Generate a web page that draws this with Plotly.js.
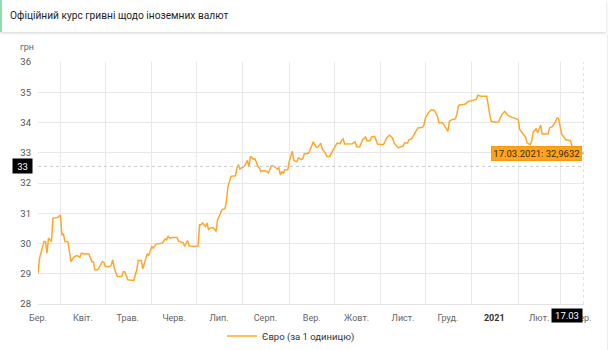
<!DOCTYPE html>
<html>
<head>
<meta charset="utf-8">
<script src="https://cdn.plot.ly/plotly-3.0.1.min.js"></script>
<style>
  html, body { margin: 0; padding: 0; background: #fff; }
  #wrap { position: relative; width: 613px; height: 350px; overflow: hidden; }
  #chart { position: absolute; left: 0; top: 0; width: 613px; height: 350px; }
  #hdr {
    position: absolute; left: 0; top: 0; width: 606px; height: 32px;
    background: #fff; border-left: 2px solid #8fdcae;
    box-shadow: 0 1px 3px rgba(0,0,0,0.18);
    font-family: Roboto, "Noto Sans", sans-serif; font-size: 10.2px; color: #1e1e1e;
    line-height: 32px; padding-left: 8px; box-sizing: border-box; z-index: 5;
  }
  #edge { position: absolute; left: 607px; top: 34px; width: 1px; height: 316px; background: #ececec; z-index: 4; }
</style>
</head>
<body>
<div id="wrap">
  <div id="chart"></div>
  <div id="hdr">Офіційний курс гривні щодо іноземних валют</div>
  <div id="edge"></div>
</div>
<script>
// ---- data ----
const dates = [
'2020-03-17','2020-03-18','2020-03-19','2020-03-21','2020-03-22','2020-03-23','2020-03-24','2020-03-26','2020-03-27','2020-03-30',
'2020-04-01','2020-04-02','2020-04-03','2020-04-04','2020-04-06','2020-04-07','2020-04-08','2020-04-10','2020-04-12','2020-04-14',
'2020-04-15','2020-04-17','2020-04-20','2020-04-22','2020-04-23','2020-04-24','2020-04-26','2020-04-29','2020-04-30','2020-05-01',
'2020-05-04','2020-05-05','2020-05-06','2020-05-07','2020-05-09','2020-05-12','2020-05-13','2020-05-14','2020-05-16','2020-05-20',
'2020-05-22','2020-05-23','2020-05-25','2020-05-26','2020-05-29','2020-05-30','2020-06-01','2020-06-02','2020-06-04','2020-06-08',
'2020-06-10','2020-06-11','2020-06-12','2020-06-13','2020-06-15','2020-06-18','2020-06-19','2020-06-22','2020-06-23','2020-06-25',
'2020-06-26','2020-06-29','2020-07-02','2020-07-03','2020-07-04','2020-07-05','2020-07-07','2020-07-08','2020-07-09','2020-07-10',
'2020-07-12','2020-07-14','2020-07-15','2020-07-17','2020-07-18','2020-07-20','2020-07-21','2020-07-22','2020-07-24','2020-07-27',
'2020-07-28','2020-07-29','2020-07-30','2020-07-31','2020-08-02','2020-08-04','2020-08-05','2020-08-06','2020-08-08','2020-08-09',
'2020-08-11','2020-08-12','2020-08-13','2020-08-15','2020-08-17','2020-08-18','2020-08-19','2020-08-20','2020-08-22','2020-08-24',
'2020-08-25','2020-08-26','2020-08-27','2020-08-28','2020-08-29','2020-08-31','2020-09-01','2020-09-03','2020-09-04','2020-09-06',
'2020-09-07','2020-09-09','2020-09-10','2020-09-11','2020-09-14','2020-09-15','2020-09-17','2020-09-19','2020-09-20','2020-09-22',
'2020-09-23','2020-09-25','2020-09-26','2020-09-28','2020-09-30','2020-10-01','2020-10-03','2020-10-05','2020-10-06','2020-10-07',
'2020-10-08','2020-10-10','2020-10-13','2020-10-15','2020-10-16','2020-10-18','2020-10-20','2020-10-22','2020-10-23','2020-10-25',
'2020-10-26','2020-10-28','2020-10-29','2020-10-30','2020-11-01','2020-11-03','2020-11-04','2020-11-05','2020-11-07','2020-11-09',
'2020-11-10','2020-11-12','2020-11-13','2020-11-15','2020-11-16','2020-11-17','2020-11-19','2020-11-20','2020-11-22','2020-11-24',
'2020-11-25','2020-11-26','2020-11-29','2020-11-30','2020-12-01','2020-12-03','2020-12-05','2020-12-07','2020-12-09','2020-12-10',
'2020-12-12','2020-12-13','2020-12-14','2020-12-15','2020-12-16','2020-12-17','2020-12-19','2020-12-21','2020-12-22','2020-12-23',
'2020-12-24','2020-12-26','2020-12-28','2020-12-29','2020-12-31','2021-01-02','2021-01-04','2021-01-05','2021-01-07','2021-01-09',
'2021-01-10','2021-01-11','2021-01-13','2021-01-14','2021-01-17','2021-01-19','2021-01-20','2021-01-21','2021-01-23','2021-01-24',
'2021-01-25','2021-01-28','2021-01-30','2021-02-01','2021-02-02','2021-02-04','2021-02-06','2021-02-07','2021-02-09','2021-02-10',
'2021-02-11','2021-02-13','2021-02-14','2021-02-16','2021-02-17','2021-02-19','2021-02-21','2021-02-22','2021-02-24','2021-02-26',
'2021-02-27','2021-02-28','2021-03-01','2021-03-02','2021-03-04','2021-03-05','2021-03-08','2021-03-09','2021-03-11','2021-03-15',
'2021-03-17'
];
const euroRate = [
29.00,29.52,29.70,30.07,30.07,29.68,30.18,30.07,30.84,30.86,
30.94,30.29,30.31,30.07,30.07,29.68,29.40,29.55,29.60,29.55,
29.68,29.65,29.65,29.40,29.40,29.13,29.13,29.40,29.38,29.24,
29.24,29.29,29.46,29.19,28.91,28.91,29.07,29.07,28.80,28.78,
29.13,29.44,29.44,29.16,29.66,29.60,29.90,29.85,29.98,30.01,
30.15,30.12,30.25,30.18,30.20,30.20,30.07,30.03,29.90,30.10,
29.92,29.90,29.92,30.62,30.62,30.68,30.56,30.68,30.45,30.51,
30.53,30.40,30.78,31.00,31.12,31.15,31.39,31.89,32.22,32.24,
32.50,32.61,32.46,32.50,32.55,32.75,32.53,32.88,32.79,32.80,
32.55,32.50,32.38,32.41,32.38,32.33,32.44,32.57,32.55,32.46,
32.50,32.27,32.38,32.31,32.44,32.44,32.72,33.05,32.75,32.70,
32.83,32.77,32.80,32.96,32.99,33.10,33.36,33.18,33.18,33.32,
33.13,32.99,32.88,32.88,33.08,33.16,33.32,33.30,33.41,33.46,
33.29,33.29,33.30,33.36,33.20,33.19,33.43,33.52,33.40,33.40,
33.52,33.54,33.43,33.29,33.27,33.27,33.38,33.49,33.58,33.49,
33.32,33.21,33.16,33.21,33.21,33.32,33.32,33.43,33.47,33.66,
33.77,33.82,33.84,33.91,34.15,34.32,34.42,34.40,34.21,33.99,
33.99,33.95,33.87,33.77,33.71,34.04,34.10,34.12,34.26,34.54,
34.59,34.59,34.62,34.68,34.72,34.74,34.76,34.90,34.87,34.87,
34.89,34.87,34.26,34.04,34.01,34.02,34.15,34.26,34.37,34.32,
34.24,34.17,34.13,34.10,33.77,33.62,33.51,33.32,33.27,33.38,
33.68,33.80,33.66,33.91,33.62,33.62,33.62,33.82,33.87,34.04,
34.15,34.13,33.82,33.62,33.49,33.43,33.40,33.21,33.05,33.00,
32.9632
];
const seriesName = 'Євро (за 1 одиницю)';
const monthLabelDates = ['2020-03-17','2020-04-16','2020-05-16','2020-06-16','2020-07-16','2020-08-16','2020-09-16',
                         '2020-10-16','2020-11-16','2020-12-16','2021-01-16','2021-02-15','2021-03-16'];
const monthLabels = ['Бер.','Квіт.','Трав.','Черв.','Лип.','Серп.','Вер.','Жовт.','Лист.','Груд.',
                     '<span style="font-weight:bold;fill:#333">2021</span>','Лют.','Бер.'];
const monthStarts = ['2020-04-01','2020-05-01','2020-06-01','2020-07-01','2020-08-01','2020-09-01','2020-10-01',
                     '2020-11-01','2020-12-01','2021-01-01','2021-02-01','2021-03-01'];
const yTicks = [28,29,30,31,32,33,34,35,36];
const xRange = ['2020-03-17','2021-03-17'];
const yRange = [28, 36];
const crosshairY = 32.55;       // hover crosshair level
const crosshairYLabel = '33';
const lastDate = dates[dates.length - 1];
const lastValue = euroRate[euroRate.length - 1];
const lastDateLabel = '17.03';
const tooltipText = '17.03.2021: 32,9632';

const FONT = 'Roboto, "Noto Sans", sans-serif';
const ORANGE = '#ffa62b';

const trace = {
  type: 'scatter', mode: 'lines', x: dates, y: euroRate, name: seriesName,
  line: {color: ORANGE, width: 1.5, shape: 'linear'}, hoverinfo: 'skip'
};

const layout = {
  width: 613, height: 350,
  margin: {l: 38, r: 29, t: 62, b: 46},
  paper_bgcolor: '#fff', plot_bgcolor: '#fff',
  font: {family: FONT, size: 9, color: '#666'},
  showlegend: true,
  legend: {orientation: 'h', xref: 'paper', x: 0.337, xanchor: 'left',
           yref: 'container', y: 0.04, yanchor: 'middle',
           font: {family: FONT, size: 9.5, color: '#333'}, bgcolor: 'rgba(0,0,0,0)'},
  xaxis: {
    type: 'date', range: xRange, fixedrange: true,
    tickmode: 'array', tickvals: monthLabelDates, ticktext: monthLabels,
    showgrid: false, ticks: '', ticklabelstandoff: 5,
    tickfont: {family: FONT, size: 9, color: '#666'},
    minor: {tickmode: 'array', tickvals: monthStarts, showgrid: true, gridcolor: '#e8e8e8', gridwidth: 1, ticks: ''},
    showline: true, linecolor: '#e3e3e3', linewidth: 1, zeroline: false
  },
  yaxis: {
    range: yRange, fixedrange: true, tickmode: 'array', tickvals: yTicks,
    showgrid: true, gridcolor: '#e8e8e8', gridwidth: 1, zeroline: false, showline: false,
    ticks: '', ticklabelstandoff: 6,
    tickfont: {family: FONT, size: 9.5, color: '#555'}
  },
  shapes: [
    {type: 'line', xref: 'paper', x0: 0, x1: 1, yref: 'y', y0: crosshairY, y1: crosshairY,
     line: {color: '#c8c8c8', width: 1, dash: 'dot'}},
    {type: 'line', xref: 'x', x0: lastDate, x1: lastDate, yref: 'paper', y0: 0, y1: 1,
     line: {color: '#c8c8c8', width: 1, dash: 'dot'}}
  ],
  annotations: [
    {xref: 'paper', x: 0, xanchor: 'right', xshift: -2, yref: 'paper', y: 1, yanchor: 'bottom', yshift: 8,
     text: 'грн', showarrow: false, font: {family: FONT, size: 9, color: '#666'}},
    {xref: 'paper', x: 0, xanchor: 'right', xshift: -5, yref: 'y', y: crosshairY, yanchor: 'middle',
     text: crosshairYLabel, showarrow: false, bgcolor: '#000', borderpad: 2, width: 15, height: 10,
     font: {family: FONT, size: 9.5, color: '#fff'}},
    {xref: 'x', x: lastDate, xanchor: 'right', xshift: -1, yref: 'paper', y: 0, yanchor: 'top', yshift: -4,
     text: lastDateLabel, showarrow: false, bgcolor: '#000', borderpad: 2, width: 26, height: 9,
     font: {family: FONT, size: 9.5, color: '#fff'}},
    {xref: 'x', x: lastDate, xanchor: 'right', xshift: -2, yref: 'y', y: lastValue, yanchor: 'middle',
     text: tooltipText, showarrow: false, bgcolor: 'rgba(255,158,16,0.95)', bordercolor: '#f59a10', borderwidth: 1,
     borderpad: 1, width: 87, height: 11, font: {family: FONT, size: 9.5, color: '#3a2a10'}}
  ]
};

Plotly.newPlot('chart', [trace], layout, {displayModeBar: false, staticPlot: true});
</script>
</body>
</html>
